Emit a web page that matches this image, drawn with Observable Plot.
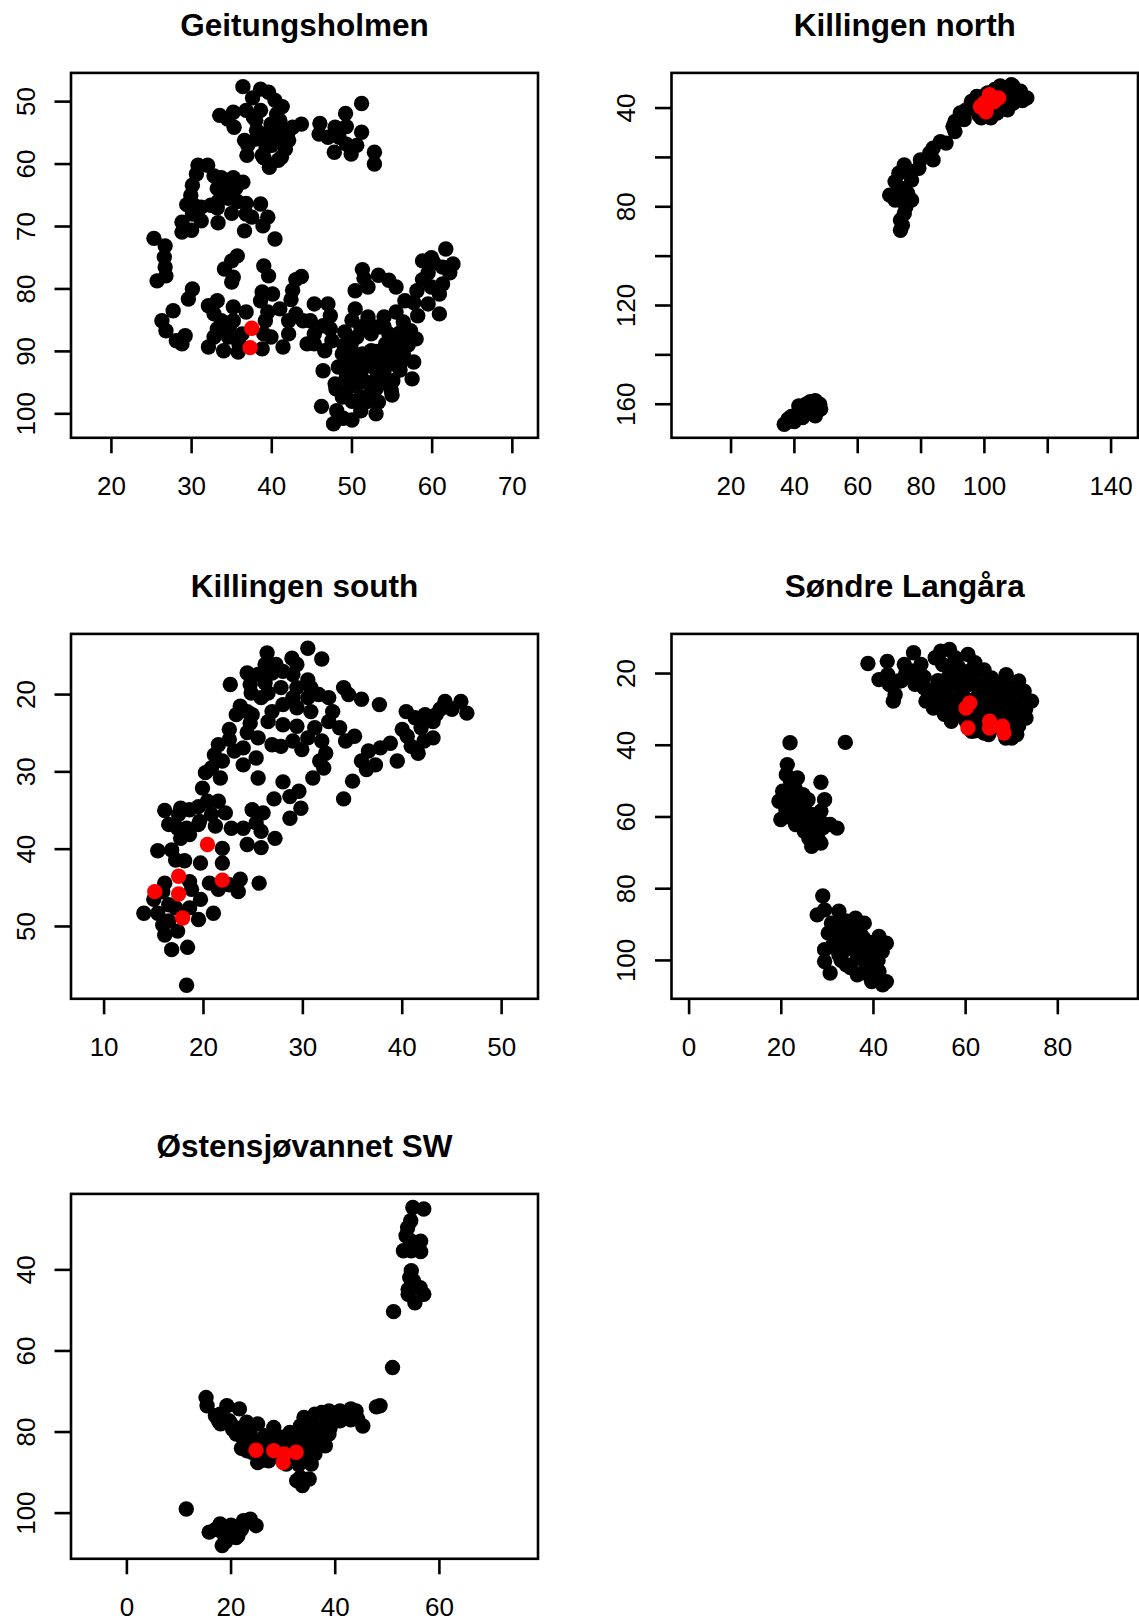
<!DOCTYPE html>
<html>
<head>
<meta charset="utf-8">
<script src="https://cdn.jsdelivr.net/npm/d3@7"></script>
<script src="https://cdn.jsdelivr.net/npm/@observablehq/plot@0.6"></script>
<style>
  html, body { margin: 0; padding: 0; background: #fff; }
  #root { position: relative; width: 1139px; height: 1621px; overflow: hidden; background: #fff; }
  .panel { position: absolute; width: 570px; height: 500px; }
</style>
</head>
<body>
<div id="root"></div>
<script>
// ---------- titles ----------
const titles = ["Geitungsholmen", "Killingen north", "Killingen south", "Søndre Langåra", "Østensjøvannet SW"];

// ---------- tick values and labels ----------
const geitXTicks = [20, 30, 40, 50, 60, 70];
const geitXLabels = [20, 30, 40, 50, 60, 70];
const geitYTicks = [50, 60, 70, 80, 90, 100];
const geitYLabels = [50, 60, 70, 80, 90, 100];

const kilNXTicks = [20, 40, 60, 80, 100, 120, 140];
const kilNXLabels = [20, 40, 60, 80, 100, 140];
const kilNYTicks = [40, 60, 80, 100, 120, 140, 160];
const kilNYLabels = [40, 80, 120, 160];

const kilSXTicks = [10, 20, 30, 40, 50];
const kilSXLabels = [10, 20, 30, 40, 50];
const kilSYTicks = [20, 30, 40, 50];
const kilSYLabels = [20, 30, 40, 50];

const sondXTicks = [0, 20, 40, 60, 80];
const sondXLabels = [0, 20, 40, 60, 80];
const sondYTicks = [20, 40, 60, 80, 100];
const sondYLabels = [20, 40, 60, 80, 100];

const ostXTicks = [0, 20, 40, 60];
const ostXLabels = [0, 20, 40, 60];
const ostYTicks = [40, 60, 80, 100];
const ostYLabels = [40, 60, 80, 100];

// ---------- data: [x, y] positions ----------
const geitBlack = [
[36.4,47.6],[37.6,49.4],[38.6,48.0],[39.6,48.5],[40.4,49.8],[41.3,50.8],[40.6,52.0],[33.5,52.2],[34.5,52.8],[35.2,51.7],[36.8,51.4],[37.7,52.5],[38.6,51.4],[35.3,54.1],[43.7,53.6],[42.6,54.1],[42.1,56.2],[39.9,53.6],[39.0,55.2],[38.1,54.6],[40.4,56.2],[36.6,56.2],[39.3,57.3],[41.7,57.6],[41.2,58.9],[36.9,58.6],[38.8,58.6],[39.7,60.5],[40.8,59.4],[39.5,56.2],[39.9,55.2],[41.7,54.9],
[38.0,53.0],[40.0,54.0],[41.0,55.0],[40.0,57.0],[39.0,59.0],[42.0,55.0],[41.0,53.0],[37.0,57.0],[38.0,56.0],
[46.0,53.5],[45.9,55.2],[47.0,55.7],[47.9,54.1],[49.2,51.9],[51.2,50.3],[49.3,54.0],[48.4,55.7],[51.2,54.9],[50.6,57.0],[49.9,58.4],[49.3,56.8],[47.8,58.1],[52.8,58.1],[52.8,60.0],
[30.8,60.2],[32.0,60.2],[30.6,61.6],[30.1,63.4],[29.9,65.0],[29.4,66.5],[30.3,66.6],[31.2,66.9],[30.1,68.0],[31.2,69.1],[28.8,69.3],[28.8,70.9],[30.0,70.6],[32.8,61.9],[33.7,62.2],[33.2,63.9],[35.2,62.2],[36.4,62.9],[34.1,63.9],[35.5,63.9],[34.6,65.5],[35.7,66.0],[36.8,66.3],[33.3,66.0],[32.4,66.6],[35.0,67.9],[36.8,68.0],[37.5,68.5],[38.6,66.4],[39.5,68.5],[38.9,69.9],[33.3,69.4],[36.6,70.7],[40.4,72.0],[33.2,67.0],
[25.3,71.9],[26.7,73.1],[26.6,74.9],[26.7,76.5],[26.8,77.9],[25.7,78.7],
[35.7,74.7],[35.0,75.5],[34.1,76.8],[35.2,78.1],[35.0,78.9],[39.0,76.3],[39.6,77.9],[30.1,80.0],[29.6,81.6],[27.7,83.5],[26.3,85.1],[26.8,86.7],[28.1,88.3],[28.8,88.8],[29.2,87.5],
[32.1,82.7],[33.2,81.9],[32.8,84.0],[33.7,85.1],[33.2,86.4],[32.8,87.7],[32.1,89.3],[34.0,89.9],[34.6,87.7],[35.2,82.9],[35.2,85.1],[34.7,86.1],[35.8,90.1],[36.8,83.7],[36.3,87.2],[35.9,88.8],[38.8,89.6],[39.9,87.7],[39.0,87.2],[38.6,81.9],[38.8,80.5],[40.1,80.8],[39.5,83.7],[39.2,85.1],[41.0,83.2],[41.4,89.3],[42.1,87.2],[43.0,78.5],[43.7,78.0],[42.6,80.2],[42.4,81.7],[43.0,84.0],[42.1,85.1],[43.9,85.1],[44.4,88.8],[45.3,82.4],[44.8,85.1],[45.3,87.2],[47.0,82.4],[47.3,84.3],[46.4,85.9],[47.3,86.4],[47.5,88.3],[46.6,89.9],[45.3,88.8],
[46.4,93.1],[47.9,95.2],[46.2,98.8],[47.7,101.6],[48.9,100.7],[48.1,99.5],[48.8,97.3],[49.7,95.7],[49.1,86.9],[49.9,88.8],[48.8,90.4],[48.3,92.5],[50.2,92.0],[51.1,93.6],[50.5,95.2],[51.1,97.3],[51.1,99.5],[52.4,96.3],[53.3,98.1],[52.9,94.7],[54.0,93.1],[54.9,96.3],[55.1,94.7],[53.7,90.9],[52.4,89.9],[51.3,90.4],[50.6,87.7],[51.1,86.1],[50.4,83.2],[50.4,80.3],[52.0,79.7],[51.3,76.9],[51.5,78.3],[53.3,77.8],[54.6,78.6],[55.5,79.7],[52.0,84.5],[54.0,84.5],[55.5,83.7],[56.4,85.3],[54.6,87.2],[56.0,88.3],[56.9,88.3],[56.4,90.4],[55.1,89.9],[57.7,91.7],[57.5,94.4],[57.3,86.7],[58.2,84.3],[57.7,82.2],[56.6,81.9],[58.1,80.3],[58.8,78.5],[59.5,77.4],[60.2,75.8],[58.8,75.5],[59.9,75.0],[61.7,73.6],[62.6,76.0],[62.2,77.4],[61.3,76.5],[61.3,79.2],[60.9,80.8],[60.9,84.0],[59.5,82.4],[59.9,79.7],[53.7,94.7],[51.5,92.5],[52.4,87.2],[53.3,86.1],[54.2,88.8],[52.9,91.7],[49.3,94.1],
[49.0,89.0],[50.0,90.0],[51.0,91.0],[52.0,92.0],[53.0,93.0],[54.0,91.0],[55.0,92.0],[56.0,92.0],[50.0,94.0],[52.0,95.0],[53.0,96.0],[54.0,95.0],[49.0,97.0],[50.0,98.0],[52.0,98.0],[48.0,96.0],[49.0,92.0],[51.0,95.0],[53.0,90.0],[55.0,88.0],[56.0,87.0],[54.0,86.0],[52.0,85.0],[50.0,85.0],[57.0,89.0],[58.0,88.0],[56.0,93.0],[55.0,97.0],[53.0,100.0],[50.0,101.0]
];
const geitRed = [[37.5,86.3],[37.3,89.4]];

const kilNBlack = [
[108.5,30.5],[111.4,33.2],[113.4,35.9],[110.2,36.6],[106.2,31.9],[103.3,32.5],[101.0,33.9],[97.6,35.3],[95.9,37.3],[95.3,40.0],[98.2,42.7],[102.2,42.7],[107.3,40.7],[109.1,38.0],[104.5,38.6],[106.2,35.3],[103.3,36.6],[99.3,39.3],
[98.0,37.0],[101.0,41.0],[104.0,42.0],[106.0,39.0],[108.0,36.0],[110.0,34.0],[112.0,37.0],[100.0,35.0],[103.0,34.0],[107.0,33.0],[96.0,39.0],[105.0,31.0],[109.0,31.0],[99.0,44.0],[102.0,44.0],[94.0,41.0],
[92.4,42.0],[90.7,45.4],[90.1,47.5],[90.7,49.5],[93.6,44.7],[87.9,54.2],[86.1,53.6],[83.8,56.3],[82.7,58.3],[83.8,61.0],[79.8,61.0],[79.3,64.4],[77.0,65.8],[74.7,63.1],[73.0,66.4],[71.8,69.8],[77.0,69.2],[73.5,72.5],[70.1,75.3],[71.8,77.3],[77.0,77.3],[75.2,80.0],[74.7,82.7],[73.5,85.4],[73.5,89.5],[74.1,87.5],[75.8,74.6],[73.5,77.3],
[36.8,168.1],[38.6,166.8],[40.3,166.1],[42.6,165.4],[41.4,160.7],[43.7,160.0],[46.6,158.6],[48.3,162.0],[46.6,164.7],[44.3,163.4],[38.0,166.1],[45.0,161.4],
[39.0,165.0],[42.0,163.0],[44.0,162.0],[46.0,160.0],[47.0,163.0],[43.0,164.0],[40.0,167.0],[45.0,159.0],[48.0,160.0]
];
const kilNRed = [[99.9,38.0],[101.6,34.6],[104.5,35.9],[99.9,40.0],[102.2,36.6],[100.5,41.5],[103.0,37.5],[98.8,39.5]];

const kilSBlack = [
[30.5,14.0],[31.9,15.4],[26.4,14.6],[26.2,16.1],[27.3,16.1],[28.9,15.3],[29.4,16.1],[24.4,17.2],[25.5,17.4],[26.9,17.2],[28.0,17.0],[29.0,17.4],[30.5,18.1],[24.7,18.7],[26.2,18.5],[27.8,19.1],[29.4,19.1],[30.8,19.1],[22.7,18.7],[24.8,19.8],[26.5,19.8],[25.8,20.4],[29.0,20.4],[30.5,20.4],[31.6,20.0],[32.6,20.4],[34.1,19.1],[34.6,20.0],[35.9,20.6],[37.7,21.3],
[23.7,21.5],[24.4,22.2],[23.3,22.6],[24.9,22.6],[26.9,22.2],[28.0,21.3],[29.4,21.7],[30.8,22.2],[33.0,22.2],[26.5,23.5],[28.0,23.9],[29.4,24.1],[31.2,24.3],[32.6,23.5],[33.7,24.3],[24.7,23.7],[22.6,24.5],[24.4,24.9],[25.5,25.6],[22.6,25.8],[21.5,26.5],[21.1,27.8],[21.9,28.6],[20.8,29.5],[21.7,30.8],[20.2,30.1],[23.1,27.3],[24.0,26.9],[24.0,29.1],[25.3,28.2],[25.5,30.8],[26.9,26.5],[27.8,26.7],[29.0,26.0],[29.9,27.1],[30.5,25.6],[31.9,26.0],[32.3,27.6],[31.7,28.6],[32.1,29.5],[31.0,30.8],[34.3,26.0],[35.2,25.4],
[28.0,31.3],[27.1,33.5],[28.7,33.2],[29.6,32.5],[29.8,34.7],[28.7,36.0],[34.1,33.5],[35.0,31.2],[35.9,28.6],[36.6,27.3],[36.4,29.7],[37.3,29.1],[37.8,26.9],[38.8,26.3],[39.5,28.6],[40.0,24.5],[40.5,25.4],[40.9,26.7],[41.6,27.6],[42.2,26.0],[42.3,22.6],[41.3,23.0],[40.4,22.2],[41.9,24.3],[43.1,23.5],[43.1,25.6],[43.8,21.9],[44.3,20.9],[45.0,21.9],[45.9,20.9],[46.5,22.4],[43.4,22.6],
[16.1,35.0],[16.5,36.8],[17.5,35.5],[17.7,34.7],[18.6,34.9],[19.5,34.5],[19.9,32.1],[20.4,33.8],[21.5,33.8],[22.2,35.3],[20.8,35.5],[21.2,37.0],[19.5,36.8],[18.3,37.3],[17.4,37.3],[17.7,38.6],[18.6,38.1],[19.6,36.4],[22.8,37.3],[24.0,37.3],[24.9,34.9],[26.0,35.3],[25.3,36.6],[25.8,37.7],[27.2,38.6],[24.4,39.4],[25.8,39.8],
[15.4,40.2],[16.8,40.1],[17.2,41.4],[18.1,41.5],[19.7,41.8],[21.9,39.9],[21.9,41.8],[16.1,44.4],[15.9,45.5],[15.0,46.5],[14.0,48.3],[15.4,48.3],[16.5,47.2],[17.2,47.6],[18.6,44.2],[18.8,45.2],[19.7,46.5],[18.6,47.6],[19.5,49.1],[15.9,49.8],[16.5,49.3],[16.1,51.1],[17.4,50.6],[16.8,53.0],[18.4,52.7],[18.3,57.6],[21.0,48.3],[20.6,44.4],[21.5,45.2],[22.6,44.6],[23.7,43.9],[23.5,45.5],[25.6,44.4]
];
const kilSRed = [[20.4,39.4],[17.5,43.5],[21.9,44.0],[15.1,45.5],[17.5,45.8],[17.9,48.9]];

const sondBlack = [
[38.8,17.2],[43.0,16.6],[41.2,21.7],[43.1,20.3],[43.5,23.1],[44.7,25.9],[44.3,27.7],[45.5,22.1],[46.7,17.5],[48.7,14.2],[48.3,19.3],[50.3,17.5],[49.8,21.2],[51.0,24.0],[53.0,24.5],[51.4,27.7],[53.0,29.6],[55.4,31.4],[56.9,33.3],[54.6,13.8],[56.5,13.3],[53.4,15.6],[55.0,17.5],[57.7,15.6],[60.5,14.7],[58.5,18.4],[60.9,19.3],[56.1,21.2],[58.1,23.1],[55.4,25.9],[56.9,27.7],[58.5,29.6],[60.1,33.3],[61.7,21.2],[63.6,23.1],[65.6,21.2],[68.8,20.3],[71.5,22.1],[72.7,24.9],[74.3,27.7],[73.1,32.4],[71.1,37.0],[68.7,38.0],[64.0,36.6],[61.3,36.1],[65.6,27.7],[68.8,25.9],[69.9,30.5],[67.9,32.4],[63.2,31.4],[62.4,26.8],[59.3,25.9],[71.5,34.6],[69.9,24.0],[67.2,24.0],
[47.0,20.0],[49.0,23.0],[51.0,21.0],[52.0,26.0],[46.0,22.0],
[57.0,19.0],[59.0,21.0],[61.0,23.0],[63.0,25.0],[65.0,25.0],[67.0,27.0],[69.0,28.0],[71.0,29.0],[73.0,30.0],[66.0,30.0],[64.0,29.0],[62.0,31.0],[58.0,27.0],[60.0,27.0],[56.0,24.0],[54.0,22.0],[58.0,16.0],[62.0,17.0],[64.0,19.0],[66.0,22.0],[68.0,23.0],[70.0,26.0],[72.0,26.0],[70.0,33.0],[67.0,35.0],[63.0,34.0],[65.0,37.0],[69.0,36.0],[71.0,36.0],[57.0,30.0],[59.0,31.0],[61.0,33.0],[55.0,28.0],[53.0,27.0],[66.0,32.0],[68.0,31.0],[72.0,32.0],[70.0,38.0],[64.0,35.0],[62.0,36.0],
[21.9,39.3],[33.9,39.2],[21.3,45.4],[21.1,48.2],[23.5,49.1],[28.6,50.3],[20.3,52.8],[19.5,55.6],[21.5,54.2],[24.7,53.8],[25.8,55.2],[29.4,55.2],[28.6,58.4],[19.9,60.7],[22.3,60.3],[23.1,62.1],[25.7,61.2],[21.5,57.0],[23.9,57.5],[26.6,59.3],[29.4,62.1],[32.1,63.1],[30.6,62.1],[26.2,64.9],[26.6,68.2],[28.6,67.3],[27.8,64.9],
[22.0,56.0],[24.0,58.0],[23.0,55.0],[21.0,58.0],[25.0,57.0],[27.0,60.0],[26.0,62.0],[24.0,61.0],[22.0,59.0],[25.0,64.0],[27.0,63.0],[29.0,63.0],[28.0,66.0],[26.0,66.0],[23.0,52.0],[22.0,50.0],
[29.0,82.0],[27.8,87.3],[29.4,85.9],[32.5,86.3],[36.1,88.2],[38.0,89.6],[30.2,92.4],[34.1,91.0],[37.3,92.8],[41.2,93.3],[42.8,95.2],[29.4,97.0],[32.5,95.6],[36.0,96.6],[39.6,97.0],[41.9,97.5],[29.4,100.3],[30.6,103.5],[34.1,101.2],[36.5,104.0],[39.6,105.9],[41.2,103.1],[42.8,105.9],[42.0,106.8],[38.4,100.3],[36.5,99.4],[32.5,98.4],[38.8,95.6],[34.9,93.8],[30.9,89.6],
[33.0,90.0],[35.0,92.0],[36.0,94.0],[38.0,94.0],[40.0,95.0],[34.0,97.0],[37.0,98.0],[39.0,99.0],[41.0,100.0],[40.0,102.0],[38.0,103.0],[35.0,102.0],[33.0,100.0],[32.0,93.0],[31.0,96.0],[34.0,89.0],[36.0,90.0],[38.0,97.0],[41.0,98.0],[39.0,104.0]
];
const sondRed = [[60.1,29.6],[60.9,28.2],[60.5,35.2],[65.2,33.3],[65.2,35.2],[68.0,34.7],[68.3,36.6]];

const ostBlack = [
[54.9,24.6],[57.0,25.0],[54.5,27.9],[53.9,29.6],[53.6,31.6],[54.6,32.9],[56.4,32.9],[53.1,35.3],[54.6,35.3],[56.4,35.5],[54.6,40.2],[54.3,41.9],[55.0,42.7],[54.0,44.8],[56.3,44.4],[57.0,46.0],[54.0,46.0],[55.3,48.1],[51.2,50.3],[51.0,64.1],[47.9,73.8],[48.6,73.5],
[15.2,71.5],[15.4,73.5],[17.9,75.6],[19.2,73.5],[21.6,74.3],[17.6,77.2],[19.6,77.2],[20.3,79.3],[21.0,80.5],[23.0,77.6],[25.1,78.0],[23.7,80.5],[26.5,80.9],[28.2,78.9],[27.9,82.2],[29.9,81.3],[31.3,80.1],[23.0,84.6],[25.1,87.5],[27.2,87.1],[30.6,87.9],[33.3,86.3],[36.1,85.4],[35.4,87.9],[34.0,76.4],[36.1,75.6],[37.4,75.2],[38.8,74.8],[40.9,74.8],[43.0,74.3],[44.0,74.8],[44.3,76.8],[45.3,78.5],[40.9,77.2],[38.8,78.0],[37.4,78.9],[34.7,80.5],[37.4,82.2],[38.8,80.5],[36.1,82.2],[38.1,83.4],[34.0,82.2],[31.9,83.0],[34.0,85.4],[32.6,92.0],[33.7,93.2],[35.0,91.6],[33.3,91.2],[34.7,81.3],[35.4,77.6],[33.3,78.5],
[17.0,76.0],[18.0,78.0],[20.0,78.0],[22.0,79.0],[22.0,81.0],[24.0,82.0],[25.0,83.0],[26.0,84.0],[27.0,85.0],[28.0,86.0],[26.0,87.0],[29.0,86.0],[31.0,86.0],[32.0,87.0],[33.0,88.0],[34.0,87.0],[35.0,86.0],[36.0,84.0],[37.0,80.0],[39.0,79.0],[40.0,76.0],[42.0,76.0],[43.0,77.0],[38.0,81.0],[36.0,79.0],[35.0,81.0],[33.0,82.0],[30.0,83.0],[28.0,83.0],[24.0,85.0],[22.0,84.0],
[11.4,99.0],[15.8,104.7],[17.9,102.7],[18.3,104.7],[18.3,108.0],[18.9,106.4],[21.7,103.1],[21.3,105.6],[23.7,101.5],[24.8,103.1],[22.4,101.9],
[17.0,104.0],[19.0,104.0],[20.0,103.0],[22.0,104.0],[23.0,102.0],[19.0,107.0],[21.0,106.0]
];
const ostRed = [[24.8,84.5],[28.2,84.6],[30.2,85.4],[30.0,87.5],[32.5,85.0]];

// ---------- drawing ----------
const FONT = "'Liberation Sans', Arial, Helvetica, sans-serif";
const labelFmt = labels => d => labels.includes(d) ? String(d) : "";

function panel(cfg) {
  const chart = Plot.plot({
    width: 570,
    height: 500,
    marginLeft: cfg.marginLeft,
    marginRight: cfg.marginRight,
    marginTop: 72.4,
    marginBottom: 62.7,
    x: {domain: cfg.xDomain, axis: null},
    y: {domain: cfg.yDomain, reverse: true, axis: null},
    style: {fontFamily: FONT, fontSize: "26px", background: "transparent", color: "black", overflow: "visible"},
    marks: [
      Plot.dot(cfg.black, {x: d => d[0], y: d => d[1], r: 7.7, fill: "black", stroke: "none"}),
      Plot.dot(cfg.red, {x: d => d[0], y: d => d[1], r: 7.7, fill: "#ff0000", stroke: "none"}),
      Plot.frame({stroke: "black", strokeWidth: 2.6}),
      Plot.axisX(cfg.xTicks, {tickSize: 16, tickPadding: 22.5, tickFormat: labelFmt(cfg.xLabels), strokeWidth: 2.6, fontSize: 26}),
      Plot.axisY(cfg.yTicks, {tickSize: 16, tickPadding: 20.5, tickRotate: -90, tickFormat: labelFmt(cfg.yLabels), strokeWidth: 2.6, fontSize: 26}),
      Plot.text([cfg.title], {text: d => d, frameAnchor: "top", lineAnchor: "bottom", dy: -37.4, fontSize: 31.5, fontWeight: "bold"})
    ]
  });
  const wrap = document.createElement("div");
  wrap.className = "panel";
  wrap.style.left = cfg.left + "px";
  wrap.style.top = cfg.top + "px";
  wrap.appendChild(chart);
  document.getElementById("root").appendChild(wrap);
}

const LEFT = {left: 0, marginLeft: 70.5, marginRight: 32.5};
const RIGHT = {left: 569, marginLeft: 102, marginRight: 1.5};

panel({...LEFT, top: 0, title: titles[0], black: geitBlack, red: geitRed,
  xDomain: [14.96, 73.2], yDomain: [45.4, 103.84],
  xTicks: geitXTicks, xLabels: geitXLabels, yTicks: geitYTicks, yLabels: geitYLabels});
panel({...RIGHT, top: 0, title: titles[1], black: kilNBlack, red: kilNRed,
  xDomain: [1.2, 148.5], yDomain: [25.76, 173.6],
  xTicks: kilNXTicks, xLabels: kilNXLabels, yTicks: kilNYTicks, yLabels: kilNYLabels});
panel({...LEFT, top: 560.6, title: titles[2], black: kilSBlack, red: kilSRed,
  xDomain: [6.67, 53.66], yDomain: [12.15, 59.36],
  xTicks: kilSXTicks, xLabels: kilSXLabels, yTicks: kilSYTicks, yLabels: kilSYLabels});
panel({...RIGHT, top: 560.6, title: titles[3], black: sondBlack, red: sondRed,
  xDomain: [-3.82, 97.4], yDomain: [8.95, 110.7],
  xTicks: sondXTicks, xLabels: sondXLabels, yTicks: sondYTicks, yLabels: sondYLabels});
panel({...LEFT, top: 1121.2, title: titles[4], black: ostBlack, red: ostRed,
  xDomain: [-10.73, 78.93], yDomain: [21.26, 111.27],
  xTicks: ostXTicks, xLabels: ostXLabels, yTicks: ostYTicks, yLabels: ostYLabels});
</script>
</body>
</html>
